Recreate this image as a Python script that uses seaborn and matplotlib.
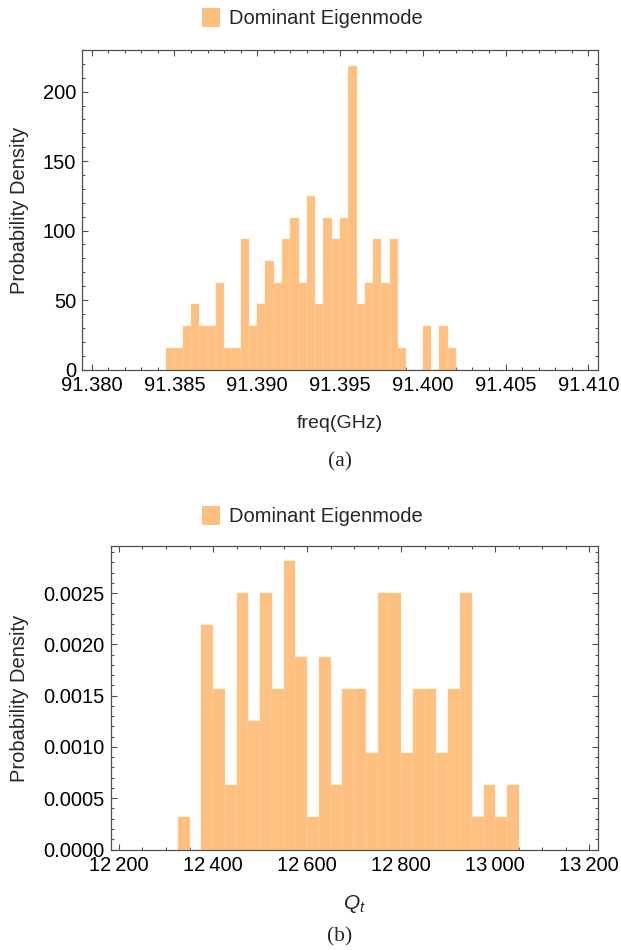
import numpy as np
import pandas as pd
import matplotlib
matplotlib.use("Agg")
import matplotlib.pyplot as plt
from matplotlib.patches import Patch
from matplotlib.ticker import MultipleLocator, FuncFormatter
import seaborn as sns

# ---------------- data ----------------
# (a) eigen-frequency histogram: 0.0005 GHz bins starting at 91.3845 GHz
freq_bin_start = 91.3845
freq_bin_width = 0.0005
freq_counts = [1, 1, 2, 3, 2, 2, 4, 1, 1, 6, 2, 3, 5, 4, 6, 7, 4, 8,
               3, 7, 6, 7, 14, 3, 4, 6, 4, 6, 1, 0, 0, 2, 0, 2, 1]

# (b) Q_t histogram: 25-wide bins starting at 12325
q_bin_start = 12325
q_bin_width = 25
q_counts = [1, 0, 7, 5, 2, 8, 4, 8, 5, 9, 6, 1, 6, 2, 5, 5, 3, 8, 8,
            3, 5, 5, 3, 5, 8, 1, 2, 1, 2]

freq_ticks = [91.380, 91.385, 91.390, 91.395, 91.400, 91.405, 91.410]
freq_yticks = [0, 50, 100, 150, 200]
q_ticks = [12200, 12400, 12600, 12800, 13000, 13200]
q_yticks = [0.0000, 0.0005, 0.0010, 0.0015, 0.0020, 0.0025]

legend_label = "Dominant Eigenmode"

# --------------- style ---------------
sns.set_style("white")
plt.rcParams["font.family"] = ["Liberation Sans", "DejaVu Sans"]
plt.rcParams["mathtext.fontset"] = "custom"
plt.rcParams["mathtext.it"] = "Liberation Sans:italic"
plt.rcParams["mathtext.rm"] = "Liberation Sans"

BAR = "#FEC080"
EDGE = "#FFD2A6"
SPINE = "#505050"
FS = 14.5

fig = plt.figure(figsize=(6.21, 9.5), dpi=100)
W, H = 621, 950


def px_axes(x0, y0, x1, y1):
    return fig.add_axes([x0 / W, 1 - y1 / H, (x1 - x0) / W, (y1 - y0) / H])


ax1 = px_axes(81.7, 50, 598.3, 369.5)
ax2 = px_axes(110.5, 546, 598.3, 849.5)


def make_hist(ax, start, width, counts):
    n = len(counts)
    edges = start + width * np.arange(n + 1)
    centers = edges[:-1] + width / 2
    df = pd.DataFrame({"x": centers, "w": counts})
    sns.histplot(data=df, x="x", weights="w", bins=edges.tolist(),
                 stat="density", color=BAR, alpha=1.0, edgecolor=EDGE,
                 linewidth=0.3, ax=ax)


make_hist(ax1, freq_bin_start, freq_bin_width, freq_counts)
make_hist(ax2, q_bin_start, q_bin_width, q_counts)


def frame_style(ax):
    for s in ax.spines.values():
        s.set_visible(True)
        s.set_color(SPINE)
        s.set_linewidth(0.9)
    ax.tick_params(which="both", direction="in", top=True, right=True,
                   bottom=True, left=True, color=SPINE, width=0.8,
                   labelsize=FS, labelcolor="black")
    ax.tick_params(which="major", length=4.5)
    ax.tick_params(which="minor", length=2.3)
    ax.tick_params(axis="x", pad=4.5)
    ax.tick_params(axis="y", pad=4)
    ax.set_xlabel("")
    ax.set_ylabel("")
    ax.grid(False)


frame_style(ax1)
frame_style(ax2)

ax1.set_xlim(91.3794, 91.4106)
ax1.set_ylim(0, 230)
ax1.set_xticks(freq_ticks)
ax1.xaxis.set_major_formatter(FuncFormatter(lambda v, p: f"{v:.3f}"))
ax1.xaxis.set_minor_locator(MultipleLocator(0.001))
ax1.set_yticks(freq_yticks)
ax1.yaxis.set_minor_locator(MultipleLocator(10))

ax2.set_xlim(12182, 13219)
ax2.set_ylim(0, 0.00296)
ax2.set_xticks(q_ticks)
ax2.xaxis.set_major_formatter(
    FuncFormatter(lambda v, p: f"{int(round(v)):,}".replace(",", "\u2009")))
ax2.xaxis.set_minor_locator(MultipleLocator(50))
ax2.set_yticks(q_yticks)
ax2.yaxis.set_major_formatter(FuncFormatter(lambda v, p: f"{v:.4f}"))
ax2.yaxis.set_minor_locator(MultipleLocator(0.0001))

# legends above each panel
for ax, ypx in ((ax1, 18), (ax2, 516)):
    h = Patch(facecolor=BAR, edgecolor="none")
    ax.legend([h], [legend_label], loc="center",
              bbox_to_anchor=(312 / W, 1 - ypx / H),
              bbox_transform=fig.transFigure, frameon=False, fontsize=FS,
              handlelength=0.9, handleheight=1.1, handletextpad=0.45,
              borderpad=0)

# axis labels
fig.text(340 / W, 1 - 423 / H, "freq(GHz)", ha="center", va="center",
         fontsize=14)
fig.text(354 / W, 1 - 904 / H, "$Q_t$", ha="center", va="center",
         fontsize=15)
fig.text(20 / W, 1 - 210 / H, "Probability Density", rotation=90,
         ha="center", va="center", fontsize=14.5)
fig.text(20 / W, 1 - 698 / H, "Probability Density", rotation=90,
         ha="center", va="center", fontsize=14.5)

serif = ["Liberation Serif", "DejaVu Serif"]
fig.text(340 / W, 1 - 462 / H, "(a)", ha="center", va="center",
         fontsize=15.5, family=serif)
fig.text(340 / W, 1 - 937 / H, "(b)", ha="center", va="center",
         fontsize=15.5, family=serif)

fig.savefig("out.png", dpi=100)
